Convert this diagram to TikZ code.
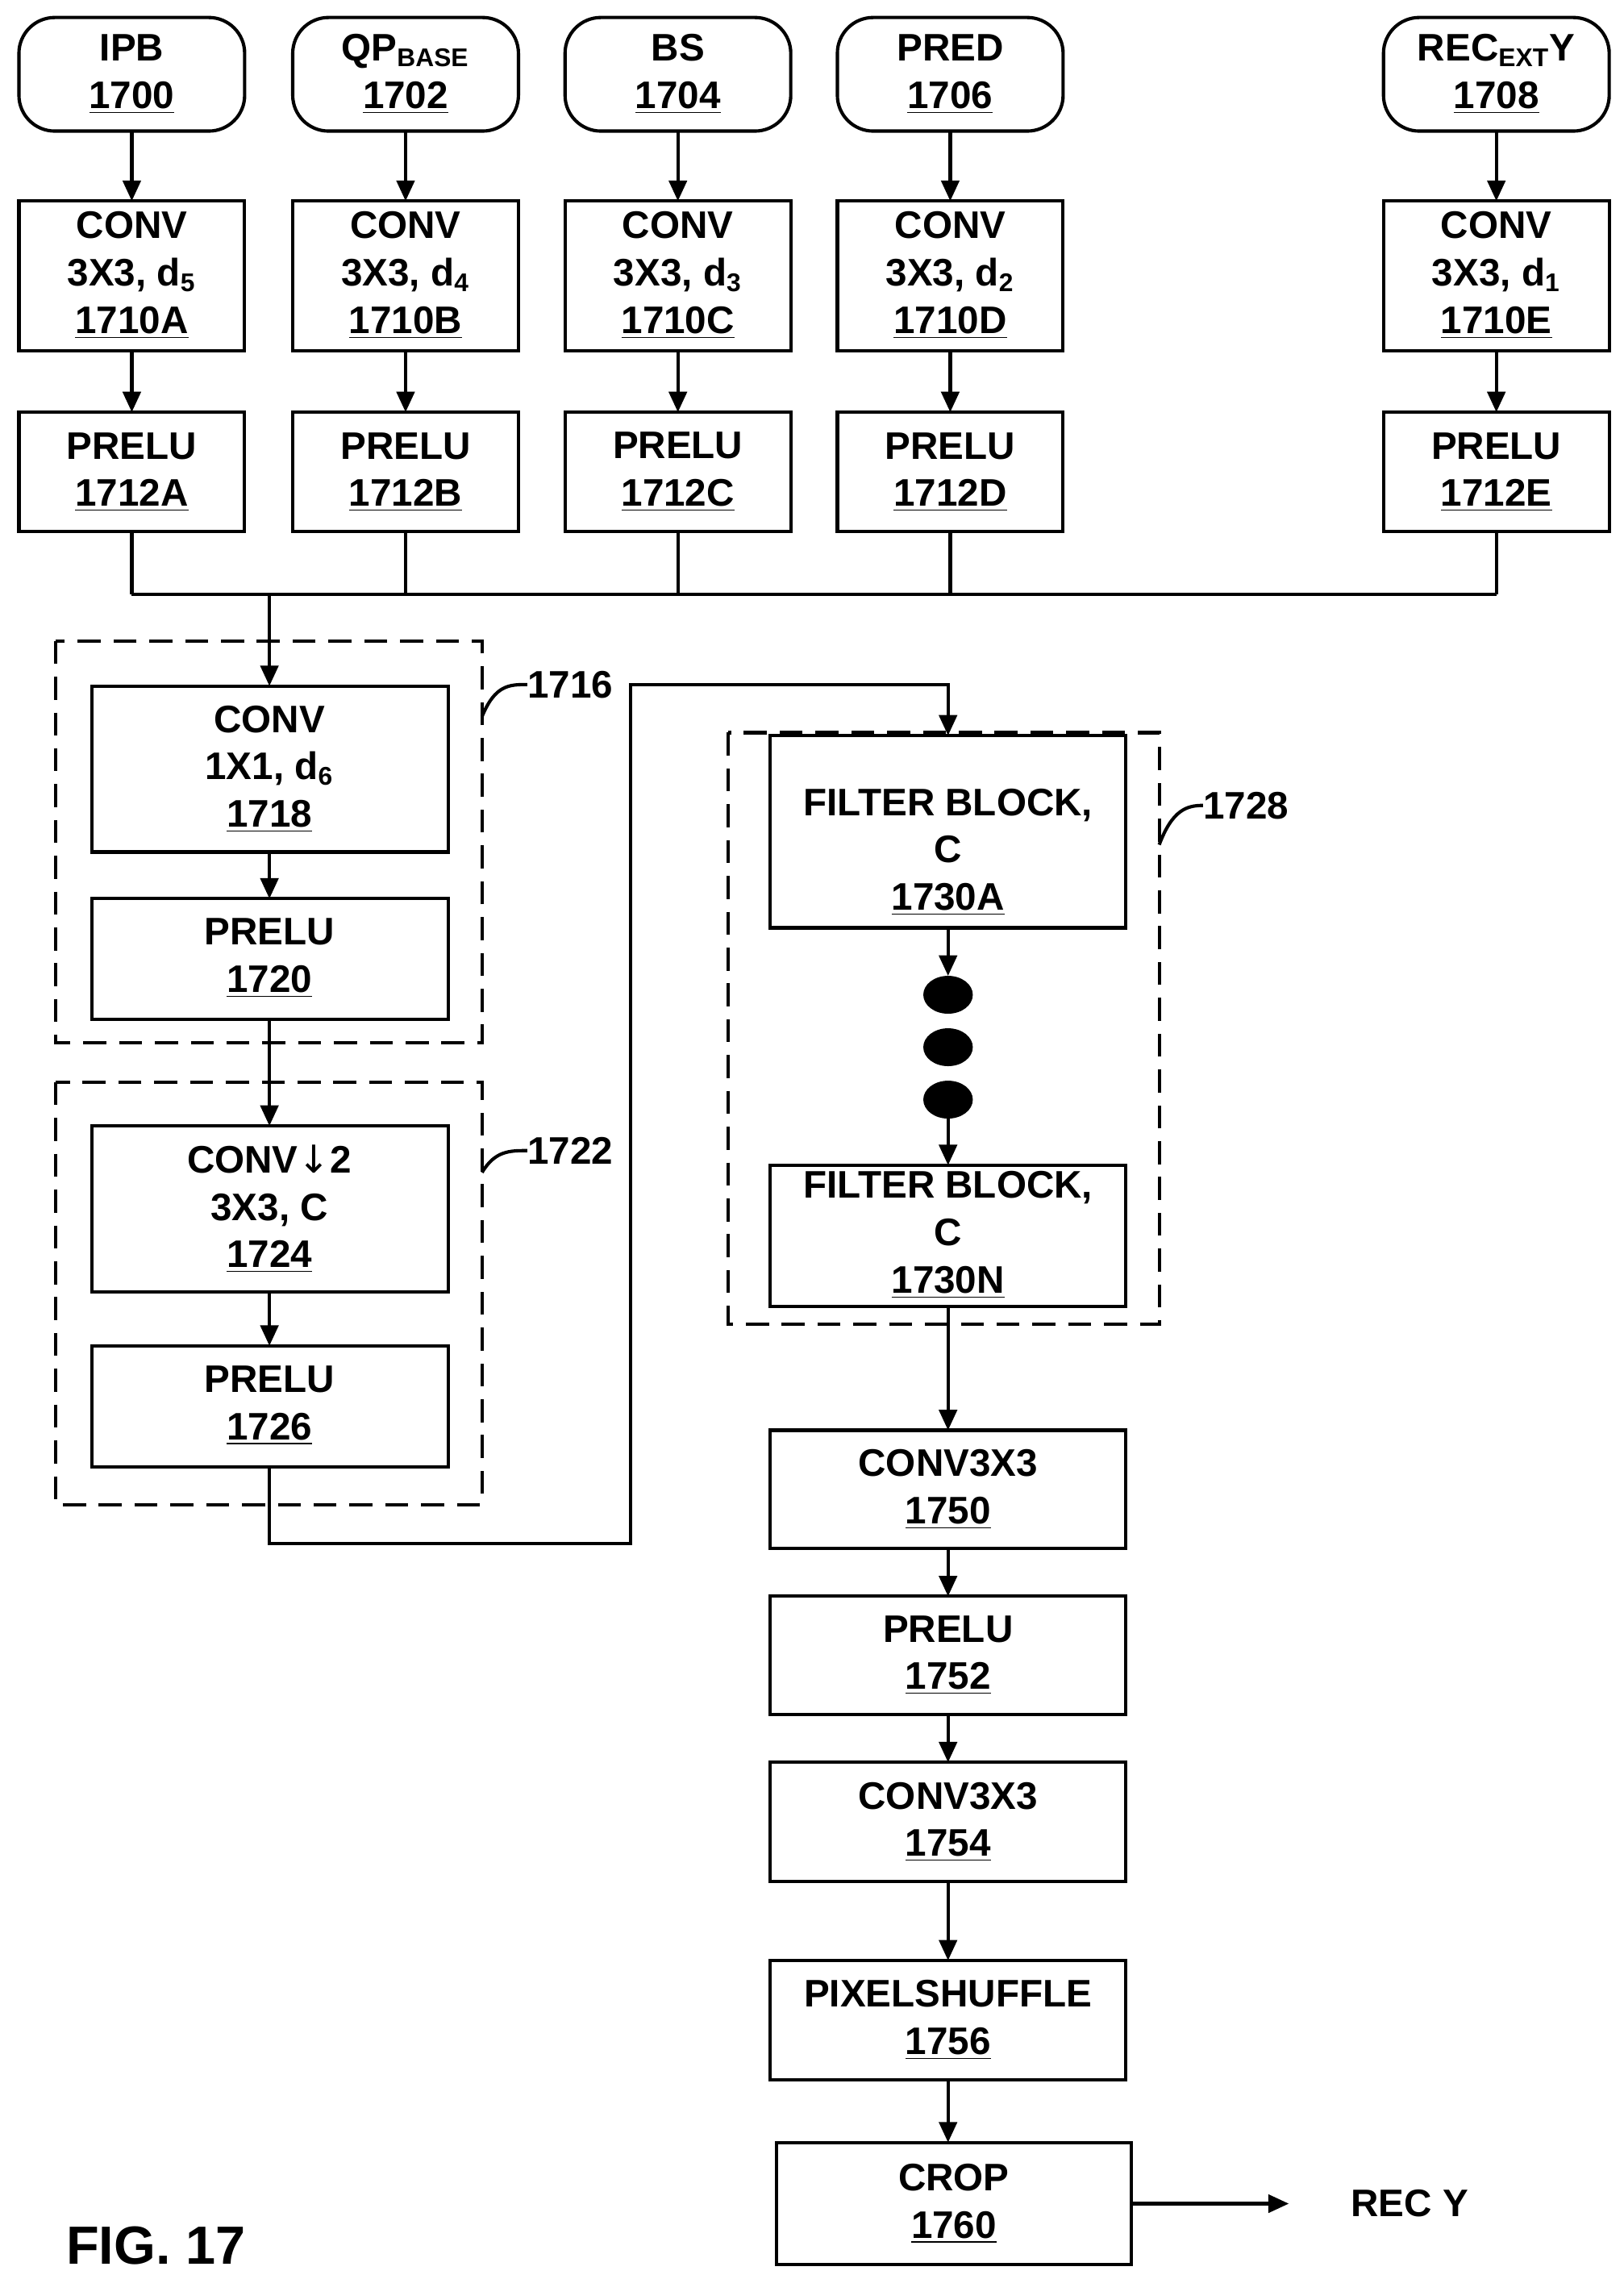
\documentclass[tikz,border=0pt]{standalone}
\usepackage{fontspec}
\setmainfont{Liberation Sans}
\newfontfamily\dv{DejaVu Sans}
\usetikzlibrary{arrows.meta}
\begin{document}
\begin{tikzpicture}[x=0.02cm,y=-0.02cm,
  every node/.style={font=\bfseries\fontsize{15}{18.5}\selectfont,align=center,inner sep=0pt},
  ln/.style={line width=1.3pt},
  ar/.style={ln,-{Triangle[length=8pt,width=7pt]}},
  dsh/.style={line width=1.3pt,dash pattern=on 9pt off 5pt},
  sub/.style={}]
\useasboundingbox (0,0) rectangle (1115,1562);
\newcommand{\bx}[6]{\draw[ln,#6] (#2,#3) rectangle (#4,#5); \node (#1) at ({(#2+#4)/2},{(#3+#5)/2}) {};}
\def\ss#1{\textsubscript{\fontsize{10}{10}\selectfont #1}}
% top inputs
\foreach \n/\x/\t in {in1/13/{IPB\\\underline{1700}},in2/201/{QP\ss{BASE}\\\underline{1702}},in3/388/{BS\\\underline{1704}},in4/575/{PRED\\\underline{1706}},in5/950/{REC\ss{EXT}Y\\\underline{1708}}}{
 \draw[ln,rounded corners=14pt] (\x,12) rectangle (\x+155,90);
 \node (\n) at (\x+77.5,51) {\t};}
\foreach \n/\x/\t in {c1/13/{CONV\\3X3, d\ss{5}\\\underline{1710A}},c2/201/{CONV\\3X3, d\ss{4}\\\underline{1710B}},c3/388/{CONV\\3X3, d\ss{3}\\\underline{1710C}},c4/575/{CONV\\3X3, d\ss{2}\\\underline{1710D}},c5/950/{CONV\\3X3, d\ss{1}\\\underline{1710E}}}{
 \draw[ln] (\x,138) rectangle (\x+155,241);
 \node (\n) at (\x+77.5,189) {\t};}
\foreach \n/\x/\t in {p1/13/1712A,p2/201/1712B,p3/388/1712C,p4/575/1712D,p5/950/1712E}{
 \draw[ln] (\x,283) rectangle (\x+155,365);
 \node (\n) at (\x+77.5,324) {PRELU\\\underline{\t}};}
\foreach \x in {90.5,278.5,465.5,652.5,1027.5}{
 \draw[ar] (\x,90) -- (\x,138);
 \draw[ar] (\x,241) -- (\x,283);
 \draw[ln] (\x,365) -- (\x,408);}
\draw[ln] (90.5,408) -- (1027.5,408);
% left blocks
\draw[dsh] (38,440) rectangle (331,716);
\draw[dsh] (38,743) rectangle (331,1033);
\draw[ln] (63,471) rectangle (308,585); \node (k1) at (185,528) {CONV\\1X1, d\ss{6}\\\underline{1718}};
\draw[ln] (63,617) rectangle (308,700); \node (k2) at (185,658) {PRELU\\\underline{1720}};
\draw[ln] (63,773) rectangle (308,887); \node (k3) at (185,830) {CONV{\dv\mdseries↓}2\\3X3, C\\\underline{1724}};
\draw[ln] (63,924) rectangle (308,1007); \node (k4) at (185,965) {PRELU\\\underline{1726}};
\draw[ar] (185,408) -- (185,471);
\draw[ar] (185,585) -- (185,617);
\draw[ar] (185,700) -- (185,773);
\draw[ar] (185,887) -- (185,924);
\draw[ar] (185,1007) -- (185,1060) -- (433,1060) -- (433,470) -- (651,470) -- (651,505);
% labels
\draw[ln] (331,492) .. controls (340,470) and (350,470) .. (362,470);
\node[anchor=west] (l1) at (362,470) {1716};
\draw[ln] (331,805) .. controls (340,790) and (350,790) .. (362,790);
\node[anchor=west] (l2) at (362,790) {1722};
\draw[ln] (796,580) .. controls (805,556) and (815,553) .. (826,553);
\node[anchor=west] (l3) at (826,553) {1728};
% right
\draw[dsh] (500,503) rectangle (796,909);
\draw[ln] (529,505) rectangle (773,637); \node (f1) at (651,585) {FILTER BLOCK,\\C\\\underline{1730A}};
\draw[ln] (529,800) rectangle (773,897); \node (f2) at (651,848) {FILTER BLOCK,\\C\\\underline{1730N}};
\draw[ar] (651,637) -- (651,670);
\foreach \y in {683,719,755} \fill (651,\y) ellipse (17 and 13);
\draw[ar] (651,765) -- (651,800);
\foreach \n/\a/\b/\t in {r1/982/1063/{CONV3X3\\\underline{1750}},r2/1096/1177/{PRELU\\\underline{1752}},r3/1210/1292/{CONV3X3\\\underline{1754}},r4/1346/1428/{PIXELSHUFFLE\\\underline{1756}}}{
 \draw[ln] (529,\a) rectangle (773,\b); \node (\n) at (651,{(\a+\b)/2}) {\t};}
\draw[ln] (533,1471) rectangle (777,1555); \node (r5) at (655,1513) {CROP\\\underline{1760}};
\draw[ar] (651,897) -- (651,982);
\draw[ar] (651,1063) -- (651,1096);
\draw[ar] (651,1177) -- (651,1210);
\draw[ar] (651,1292) -- (651,1346);
\draw[ar] (651,1428) -- (651,1471);
\coordinate (e) at (885,1513);
\draw[ar] (777,1513) -- (e);
\node (out) at (968,1513) {REC Y};
\node[font=\bfseries\fontsize{21}{24}\selectfont] (fig) at (107,1542) {FIG. 17};
\end{tikzpicture}
\end{document}
